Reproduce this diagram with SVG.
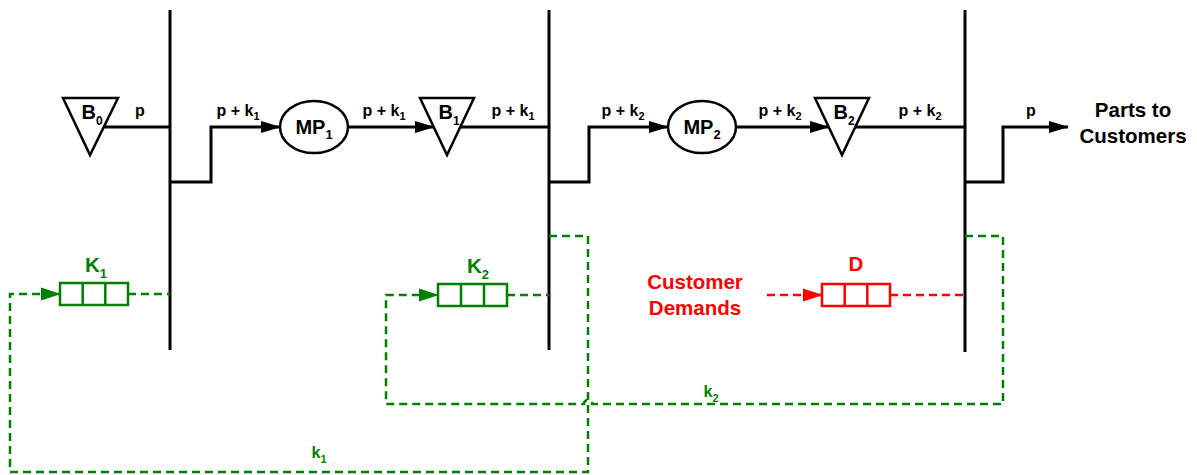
<svg xmlns="http://www.w3.org/2000/svg" width="1197" height="475" viewBox="0 0 1197 475">
<defs>
<style>
text{font-family:"Liberation Sans",Arial,sans-serif;font-weight:bold;}
.lbl{font-size:16px;fill:#000;text-anchor:middle;}
.node{font-size:20px;fill:#000;text-anchor:middle;}
.big{font-size:20.5px;text-anchor:middle;}
.bar{stroke:#000;stroke-width:3;fill:none;}
.flow{stroke:#000;stroke-width:3;fill:none;}
.shape{stroke:#000;stroke-width:2.5;fill:#fff;}
.gd{stroke:#008000;stroke-width:2.5;fill:none;stroke-dasharray:8 5;}
.rd{stroke:#ff0000;stroke-width:2.5;fill:none;stroke-dasharray:8 5;}
.gbox{stroke:#008000;stroke-width:2.5;fill:#fff;}
.rbox{stroke:#ff0000;stroke-width:2.5;fill:#fff;}
.g{fill:#008000;}
.r{fill:#ff0000;}
</style>
<marker id="ab" markerUnits="userSpaceOnUse" markerWidth="20" markerHeight="14" refX="19" refY="7" orient="auto"><path d="M0,1 L20,7 L0,13 z" fill="#000"/></marker>
<marker id="ag" markerUnits="userSpaceOnUse" markerWidth="20" markerHeight="14" refX="19" refY="7" orient="auto"><path d="M0,0.5 L20,7 L0,13.5 z" fill="#008000"/></marker>
<marker id="ar" markerUnits="userSpaceOnUse" markerWidth="20" markerHeight="14" refX="19" refY="7" orient="auto"><path d="M0,0.5 L20,7 L0,13.5 z" fill="#ff0000"/></marker>
</defs>

<g id="bars">
<line class="bar" x1="170" y1="10" x2="170" y2="350"/>
<line class="bar" x1="549" y1="10" x2="549" y2="350"/>
<line class="bar" x1="965" y1="10" x2="965" y2="352"/>
</g>

<g id="connectors">
<path class="flow" d="M104,127 H170"/>
<path class="flow" d="M170,182 H211 V127 H280" marker-end="url(#ab)"/>
<path class="flow" d="M348,127 H434" marker-end="url(#ab)"/>
<path class="flow" d="M460,127 H549"/>
<path class="flow" d="M549,182 H589 V127 H668" marker-end="url(#ab)"/>
<path class="flow" d="M736,127 H829" marker-end="url(#ab)"/>
<path class="flow" d="M855,127 H965"/>
<path class="flow" d="M965,182 H1003 V127 H1068" marker-end="url(#ab)"/>
<path class="gd" d="M549,236 H588 V472 H10 V294 H60" marker-end="url(#ag)"/>
<path class="gd" d="M128,294 H170"/>
<path class="gd" d="M965,236 H1003 V404 H592 A4,4 0 0 0 584,404 H386 V295 H438" marker-end="url(#ag)"/>
<path class="gd" d="M507,295 H549"/>
<path class="rd" d="M767,295 H822" marker-end="url(#ar)"/>
<path class="rd" d="M890,295 H965"/>
<text class="lbl" x="140" y="116">p</text>
<text class="lbl" x="238" y="116">p + k<tspan font-size="11" dy="4">1</tspan></text>
<text class="lbl" x="384" y="116">p + k<tspan font-size="11" dy="4">1</tspan></text>
<text class="lbl" x="513" y="116">p + k<tspan font-size="11" dy="4">1</tspan></text>
<text class="lbl" x="623" y="116">p + k<tspan font-size="11" dy="4">2</tspan></text>
<text class="lbl" x="780" y="116">p + k<tspan font-size="11" dy="4">2</tspan></text>
<text class="lbl" x="920" y="116">p + k<tspan font-size="11" dy="4">2</tspan></text>
<text class="lbl" x="1031" y="116">p</text>
<text class="lbl g" x="319" y="458">k<tspan font-size="11" dy="5">1</tspan></text>
<text class="lbl g" x="711" y="397">k<tspan font-size="11" dy="5">2</tspan></text>
</g>

<g id="B0">
<polygon class="shape" points="63,98 118,98 90,155"/>
<text class="node" x="92" y="119">B<tspan font-size="12" dy="6">0</tspan></text>
</g>
<g id="MP1">
<ellipse class="shape" cx="314" cy="127" rx="34" ry="26"/>
<text class="node" x="314" y="134">MP<tspan font-size="13" dy="5">1</tspan></text>
</g>
<g id="B1">
<polygon class="shape" points="420,98 474,98 447,155"/>
<text class="node" x="449" y="119">B<tspan font-size="12" dy="6">1</tspan></text>
</g>
<g id="MP2">
<ellipse class="shape" cx="702" cy="127" rx="34" ry="26"/>
<text class="node" x="702" y="134">MP<tspan font-size="13" dy="5">2</tspan></text>
</g>
<g id="B2">
<polygon class="shape" points="815,98 869,98 842,155"/>
<text class="node" x="844" y="119">B<tspan font-size="12" dy="6">2</tspan></text>
</g>
<g id="parts">
<text class="big" x="1133" y="117">Parts to</text>
<text class="big" x="1133" y="143">Customers</text>
</g>
<g id="K1">
<rect class="gbox" x="60" y="283" width="68" height="22"/>
<line class="gbox" x1="82.7" y1="283" x2="82.7" y2="305"/>
<line class="gbox" x1="105.3" y1="283" x2="105.3" y2="305"/>
<text class="big g" x="96" y="272">K<tspan font-size="13" dy="6">1</tspan></text>
</g>
<g id="K2">
<rect class="gbox" x="438" y="284" width="69" height="22"/>
<line class="gbox" x1="461" y1="284" x2="461" y2="306"/>
<line class="gbox" x1="484" y1="284" x2="484" y2="306"/>
<text class="big g" x="478" y="273">K<tspan font-size="13" dy="6">2</tspan></text>
</g>
<g id="D">
<rect class="rbox" x="822" y="284" width="68" height="22"/>
<line class="rbox" x1="844.7" y1="284" x2="844.7" y2="306"/>
<line class="rbox" x1="867.3" y1="284" x2="867.3" y2="306"/>
<text class="big r" x="856" y="271">D</text>
</g>
<g id="demands">
<text class="big r" x="695" y="289">Customer</text>
<text class="big r" x="695" y="315">Demands</text>
</g>
</svg>
